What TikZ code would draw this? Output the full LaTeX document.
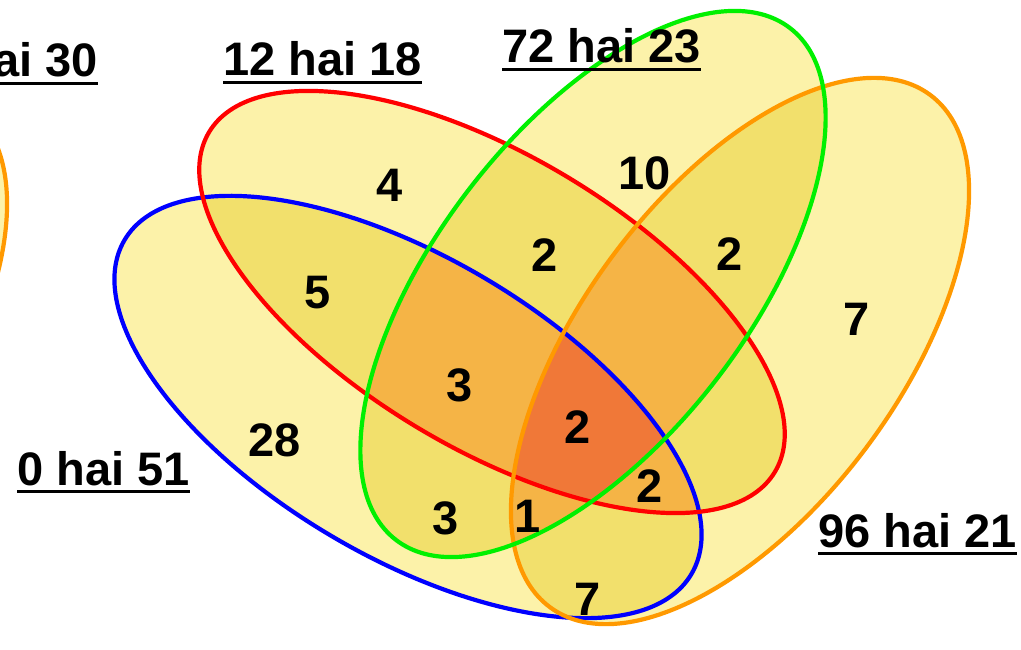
\documentclass[tikz,border=0pt]{standalone}
\usepackage{fontspec}
\setmainfont{Liberation Sans}
\definecolor{cone}{HTML}{FCF2A9}
\definecolor{ctwo}{HTML}{F2E06C}
\definecolor{cthree}{HTML}{F5B446}
\definecolor{cfour}{HTML}{F07838}
\definecolor{sblue}{HTML}{0000FF}
\definecolor{sred}{HTML}{FF0000}
\definecolor{sgreen}{HTML}{00F000}
\definecolor{sorange}{HTML}{FF9900}
\tikzset{
  eB/.style={shift={(408,407)},rotate=-30.5,x radius=329pt,y radius=150pt},
  eR/.style={shift={(492,302)},rotate=-31,x radius=330pt,y radius=146pt},
  eG/.style={shift={(593,284)},rotate=52.4,x radius=323pt,y radius=156pt},
  eO/.style={shift={(740,351)},rotate=53.4,x radius=319pt,y radius=159pt},
  eL/.style={shift={(-222,364)},rotate=53.4,x radius=319pt,y radius=159pt},
  rim/.style={line width=4.2pt},
  lbl/.style={font=\bfseries\fontsize{47}{50}\selectfont, inner sep=0pt},
  num/.style={font=\bfseries\fontsize{47}{50}\selectfont, inner sep=0pt},
  uline/.style={line width=2.5pt}
}
\begin{document}
\begin{tikzpicture}[x=1pt,y=-1pt]
\useasboundingbox (0,0) rectangle (1021,650);
% single fills
\foreach \e in {eL,eB,eR,eG,eO} {\fill[cone,\e] (0,0) ellipse [];}
% pairs
\foreach \a/\b in {eB/eR,eB/eG,eB/eO,eR/eG,eR/eO,eG/eO} {
  \begin{scope}
    \clip[\a] (0,0) ellipse [];
    \fill[ctwo,\b] (0,0) ellipse [];
  \end{scope}
}
% triples
\foreach \a/\b/\c in {eB/eR/eG,eB/eR/eO,eB/eG/eO,eR/eG/eO} {
  \begin{scope}
    \clip[\a] (0,0) ellipse [];
    \clip[\b] (0,0) ellipse [];
    \fill[cthree,\c] (0,0) ellipse [];
  \end{scope}
}
% all four
\begin{scope}
  \clip[eB] (0,0) ellipse [];
  \clip[eR] (0,0) ellipse [];
  \clip[eG] (0,0) ellipse [];
  \fill[cfour,eO] (0,0) ellipse [];
\end{scope}
% outlines
\draw[rim,sorange,eL] (0,0) ellipse [];
\draw[rim,sblue,eB] (0,0) ellipse [];
\draw[rim,sred,eR] (0,0) ellipse [];
\draw[rim,sorange,eO] (0,0) ellipse [];
\draw[rim,sgreen,eG] (0,0) ellipse [];
% labels
\node[lbl,anchor=base east] (l30) at (98,77) {ai 30};
\node[lbl,anchor=base west] (l18) at (223,76) {12 hai 18};
\node[lbl,anchor=base west] (l23) at (502,63) {72 hai 23};
\node[lbl,anchor=base west] (l51) at (17,485) {0 hai 51};
\node[lbl,anchor=base west] (l21) at (818,547) {96 hai 21};
\foreach \n in {l30,l18,l23,l51,l21}
  \draw[uline] ([yshift=-6.5pt]\n.base west) -- ([yshift=-6.5pt]\n.base east);
% region counts
\node[num] (n4) at (390,185) {4};
\node[num] (n10) at (645,173) {10};
\node[num] (n2a) at (545,255) {2};
\node[num] (n2b) at (730,254) {2};
\node[num] (n7a) at (857,319) {7};
\node[num] (n5) at (318,293) {5};
\node[num] (n3a) at (460,385) {3};
\node[num] (n2c) at (578,427) {2};
\node[num] (n28) at (275,440) {28};
\node[num] (n2d) at (650,486) {2};
\node[num] (n3b) at (446,518) {3};
\node[num] (n1) at (528,516) {1};
\node[num] (n7b) at (588,599) {7};
\end{tikzpicture}
\end{document}
